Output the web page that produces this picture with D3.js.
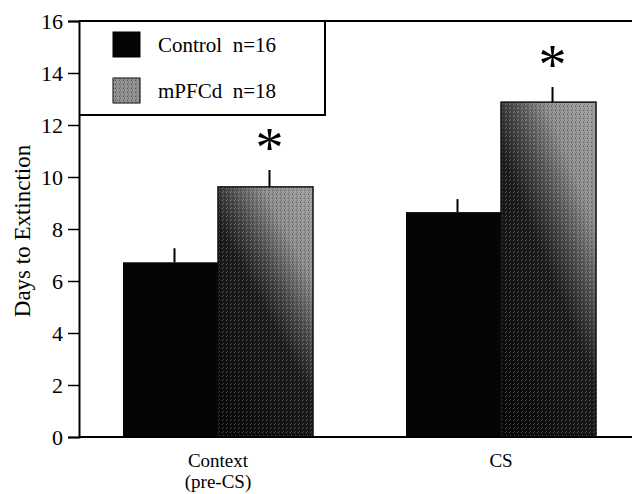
<!DOCTYPE html>
<html>
<head>
<meta charset="utf-8">
<script src="https://cdn.jsdelivr.net/npm/d3@7"></script>
<style>
  html, body { margin: 0; padding: 0; background: #fff; }
  svg { display: block; }
  svg text { font-family: "Liberation Serif", "Times New Roman", serif; fill: #000; }
</style>
</head>
<body>
<div id="chart"></div>
<script>
(function () {
  const conditions = ["Context (pre-CS)", "CS"];
  const conditionLines = [["Context", "(pre-CS)"], ["CS"]];
  const groups = ["Control", "mPFCd"];
  const groupLabels = ["Control  n=16", "mPFCd  n=18"];
  const controlMeans = [6.72, 8.65];
  const controlSem = [0.54, 0.5];
  const mpfcdMeans = [9.62, 12.88];
  const mpfcdSem = [0.65, 0.58];
  const significant = [true, true];
  const yTicks = [0, 2, 4, 6, 8, 10, 12, 14, 16];

  const W = 632, H = 494;
  const left = 79, right = 632, top = 21, bottom = 437;

  const svg = d3.select("#chart").append("svg").attr("width", W).attr("height", H);

  // scanned look of the mPFCd bars: grey on top, darkening toward the lower left
  const defs = svg.append("defs");
  const grad = defs.append("linearGradient").attr("id", "shade")
    .attr("x1", 0.85).attr("y1", 0).attr("x2", 0.15).attr("y2", 1);
  [[0, "#9a9a9a"], [0.18, "#8c8c8c"], [0.36, "#4a4a4a"], [0.5, "#1c1c1c"], [1, "#080808"]]
    .forEach(([o, c]) => grad.append("stop").attr("offset", o).attr("stop-color", c));
  const stip = defs.append("pattern").attr("id", "stipple")
    .attr("width", 4).attr("height", 4).attr("patternUnits", "userSpaceOnUse");
  stip.append("rect").attr("x", 0).attr("y", 0).attr("width", 1).attr("height", 1).attr("fill", "#fff").attr("opacity", 0.3);
  stip.append("rect").attr("x", 2).attr("y", 2).attr("width", 1).attr("height", 1).attr("fill", "#000").attr("opacity", 0.35);
  stip.append("rect").attr("x", 3).attr("y", 0).attr("width", 1).attr("height", 1).attr("fill", "#000").attr("opacity", 0.25);
  stip.append("rect").attr("x", 1).attr("y", 3).attr("width", 1).attr("height", 1).attr("fill", "#fff").attr("opacity", 0.2);

  const x0 = d3.scaleBand().domain(conditions).range([left, right])
    .paddingInner(0.3286).paddingOuter(0.1413).align(0.55);
  const x1 = d3.scaleBand().domain(groups).range([0, x0.bandwidth()]);
  const y = d3.scaleLinear().domain([0, 16]).range([bottom, top]);

  const rows = conditions.map((c, i) => [
    { cond: c, group: "Control", mean: controlMeans[i], sem: controlSem[i] },
    { cond: c, group: "mPFCd", mean: mpfcdMeans[i], sem: mpfcdSem[i] },
  ]).flat();

  // bars
  const bar = svg.append("g").selectAll("g").data(rows).join("g")
    .attr("transform", d => `translate(${x0(d.cond) + x1(d.group)},0)`);

  bar.append("rect")
    .attr("y", d => y(d.mean)).attr("width", x1.bandwidth()).attr("height", d => y(0) - y(d.mean))
    .attr("fill", d => d.group === "Control" ? "#050505" : "url(#shade)");
  bar.filter(d => d.group === "mPFCd").append("rect")
    .attr("y", d => y(d.mean)).attr("width", x1.bandwidth()).attr("height", d => y(0) - y(d.mean))
    .attr("fill", "url(#stipple)").attr("stroke", "#111").attr("stroke-width", 1.5);

  // error bars (upper only)
  bar.append("line")
    .attr("x1", x1.bandwidth() / 2 + 4).attr("x2", x1.bandwidth() / 2 + 4)
    .attr("y1", d => y(d.mean)).attr("y2", d => y(d.mean + d.sem))
    .attr("stroke", "#000").attr("stroke-width", 2);

  // asterisks
  svg.append("g").selectAll("text").data(conditions.filter((c, i) => significant[i])).join("text")
    .attr("x", c => x0(c) + x1("mPFCd") + x1.bandwidth() / 2 + 4)
    .attr("y", c => { const i = conditions.indexOf(c); return y(mpfcdMeans[i] + mpfcdSem[i]) - 3; })
    .attr("text-anchor", "middle").style("font-size", "56px")
    .text("*");

  // y axis
  const yAxis = svg.append("g").attr("transform", `translate(${left},0)`)
    .call(d3.axisLeft(y).tickValues(yTicks).tickSize(11).tickPadding(5));
  yAxis.select(".domain").attr("stroke-width", 2);
  yAxis.selectAll(".tick line").attr("stroke-width", 1.5);
  yAxis.selectAll(".tick text").style("font-size", "22px");

  // frame top and bottom
  svg.append("line").attr("x1", left).attr("x2", right).attr("y1", y(16)).attr("y2", y(16))
    .attr("stroke", "#000").attr("stroke-width", 2);
  svg.append("line").attr("x1", left).attr("x2", right).attr("y1", y(0)).attr("y2", y(0))
    .attr("stroke", "#000").attr("stroke-width", 2);

  // x labels, one text per line
  const labelLines = conditions.flatMap((c, i) => conditionLines[i].map((t, j) => ({ c, t, j })));
  svg.append("g").selectAll("text").data(labelLines).join("text")
    .attr("x", d => x0(d.c) + x0.bandwidth() / 2)
    .attr("y", d => 467 + d.j * 21)
    .attr("text-anchor", "middle").style("font-size", "19px")
    .text(d => d.t);

  // y label
  svg.append("text").attr("transform", "translate(30,231) rotate(-90)")
    .attr("text-anchor", "middle").style("font-size", "23px").text("Days to Extinction");

  // legend
  const lg = svg.append("g");
  lg.append("path").attr("d", `M${left},115 H325 V${y(16)}`)
    .attr("fill", "none").attr("stroke", "#000").attr("stroke-width", 2);
  const item = lg.selectAll("g").data(groups).join("g")
    .attr("transform", (d, i) => `translate(113,${32 + i * 46})`);
  item.append("rect").attr("width", 27).attr("height", 25)
    .attr("fill", d => d === "Control" ? "#050505" : "#8c8c8c")
    .attr("stroke", "#000").attr("stroke-width", 1);
  item.filter(d => d === "mPFCd").append("rect").attr("width", 27).attr("height", 25)
    .attr("fill", "url(#stipple)");
  item.append("text").attr("x", 45).attr("y", 20).style("font-size", "21px")
    .attr("xml:space", "preserve").style("white-space", "pre")
    .text((d, i) => groupLabels[i]);
})();
</script>
</body>
</html>
